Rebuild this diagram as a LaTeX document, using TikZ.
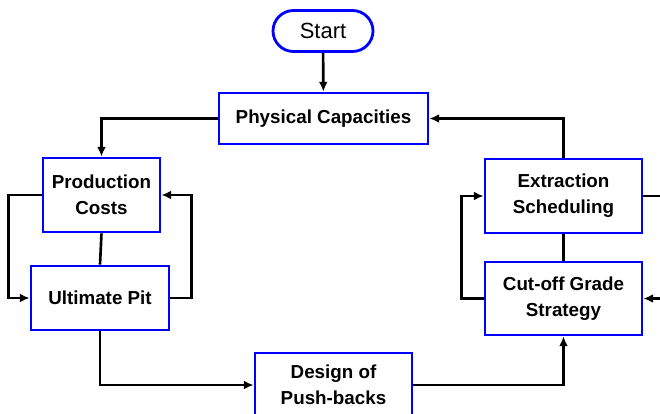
\documentclass[tikz,border=0pt]{standalone}
\usepackage{fontspec}
\setmainfont{Liberation Sans}
\usetikzlibrary{arrows.meta}

\begin{document}
\begin{tikzpicture}[x=0.02cm,y=-0.02cm,
	box/.style={draw=blue,line width=1.6pt,fill=white,inner sep=0,align=center,font=\fontsize{10.7}{14.8}\selectfont\bfseries},
	link/.style={line width=1.5pt,-{Latex[length=5.5pt,width=5pt]}},
	plain/.style={line width=1.5pt}]
	\useasboundingbox (0,0) rectangle (660,413);
	\node[box,font=\fontsize{12.5}{14}\selectfont,minimum width=2cm,minimum height=0.82cm,rounded corners=0.41cm] (start) at (323,31) {Start};
	\node[box,minimum width=4.18cm,minimum height=1.02cm] (phys) at (323.5,118.5) {Physical Capacities};
	\node[box,minimum width=2.34cm,minimum height=1.48cm] (prod) at (101.5,195) {Production\\Costs};
	\node[box,minimum width=2.76cm,minimum height=1.28cm] (ult) at (100,298) {Ultimate Pit};
	\node[box,minimum width=3.14cm,minimum height=1.28cm] (push) at (333.5,385) {Design of\\Push-backs};
	\node[box,minimum width=3.14cm,minimum height=1.48cm] (ext) at (563.5,196) {Extraction\\Scheduling};
	\node[box,minimum width=3.14cm,minimum height=1.46cm] (cut) at (563.5,298.5) {Cut-off Grade\\Strategy};
	\coordinate (out) at (660,196);
	\coordinate (in) at (660,298.5);
	\draw[link] (start) -- (phys);
	\draw[link] (phys.west) -| (prod.north);
	\draw[plain] (prod.south) -- (ult.north);
	\draw[link] (prod.west) -- ++(-33,0) |- (ult.west);
	\draw[link] (ult.east) -- ++(21,0) |- (prod.east);
	\draw[link] (ult.south) |- (push.west);
	\draw[link] (push.east) -| (cut.south);
	\draw[link] (ext.north) |- (phys.east);
	\draw[plain] (ext.south) -- (cut.north);
	\draw[link] (cut.west) -- ++(-22,0) |- (ext.west);
	\draw[plain] (ext.east) -- (out);
	\draw[link] (in) -- (cut.east);
\end{tikzpicture}
\end{document}
